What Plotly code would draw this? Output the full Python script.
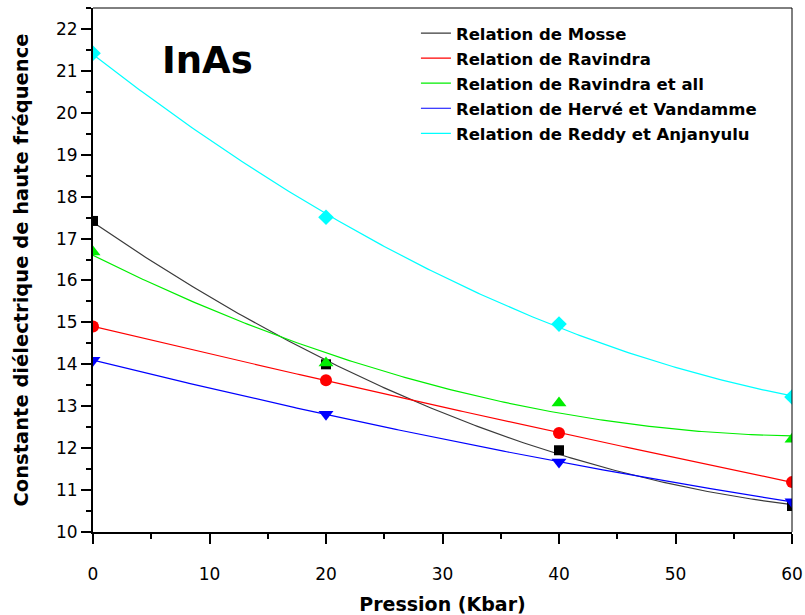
import numpy as np
import plotly.graph_objects as go

# ---- data ----
pressure = [0, 20, 40, 60]
mosse = [17.42, 14.00, 11.95, 10.62]
ravindra = [14.90, 13.62, 12.36, 11.19]
ravindra_all = [16.68, 14.03, 13.08, 12.21]
herve = [14.10, 12.81, 11.67, 10.72]
reddy = [21.42, 17.51, 14.96, 13.22]

series_names = [
    "Relation de Mosse",
    "Relation de Ravindra",
    "Relation de Ravindra et all",
    "Relation de Hervé et Vandamme",
    "Relation de Reddy et Anjanyulu",
]
series_values = [mosse, ravindra, ravindra_all, herve, reddy]
line_colors = ["#3a3a3a", "#ff0000", "#00ee00", "#0000ff", "#00ffff"]
marker_colors = ["#000000", "#ff0000", "#00ee00", "#0000ff", "#00ffff"]
marker_symbols = ["square", "circle", "triangle-up", "triangle-down", "diamond"]
marker_sizes = [10, 12, 13, 13, 12]

FONT = "DejaVu Sans"

fig = go.Figure()

xs = np.linspace(0, 60, 241)
# fitted (2nd order polynomial) curves, as in the original figure
for name, vals, lc in zip(series_names, series_values, line_colors):
    coef = np.polyfit(pressure, vals, 2)
    fig.add_trace(go.Scatter(
        x=xs, y=np.polyval(coef, xs), mode="lines", name="<b>" + name + "</b>",
        line=dict(color=lc, width=1.2), legendgroup=name,
    ))

for name, vals, mc, sym, ms in zip(series_names, series_values, marker_colors,
                                   marker_symbols, marker_sizes):
    fig.add_trace(go.Scatter(
        x=pressure, y=vals, mode="markers", showlegend=False, legendgroup=name,
        marker=dict(color=mc, symbol=sym, size=ms, line=dict(width=0)),
    ))

fig.add_annotation(
    x=9.8, y=21.25, xref="x", yref="y", text="<b>InAs</b>", showarrow=False,
    font=dict(family=FONT, size=37, color="black"),
)

axis_common = dict(
    showgrid=False, zeroline=False, showline=True, linecolor="black", linewidth=2,
    ticks="outside", ticklen=10, tickwidth=2, tickcolor="black",
    tickfont=dict(family=FONT, size=17, color="black"), automargin=False,
)

fig.update_xaxes(
    range=[0, 60], dtick=10, tick0=0,
    minor=dict(ticks="outside", ticklen=5, tickwidth=2, tickcolor="black", dtick=5),
    ticklabelstandoff=16,
    title=dict(text="<b>Pression (Kbar)</b>", font=dict(family=FONT, size=19, color="black"),
               standoff=18),
    **axis_common,
)
fig.update_yaxes(
    range=[10, 22.5], dtick=1, tick0=10,
    minor=dict(ticks="outside", ticklen=5, tickwidth=2, tickcolor="black", dtick=0.5),
    title=dict(text="<b>Constante diélectrique de haute fréquence</b>",
               font=dict(family=FONT, size=19.5, color="black"), standoff=22),
    **axis_common,
)

# thin top / right frame
fig.add_shape(type="line", xref="paper", yref="paper", x0=0, x1=1, y0=1, y1=1,
              line=dict(color="black", width=1))
fig.add_shape(type="line", xref="paper", yref="paper", x0=1, x1=1, y0=0, y1=1,
              line=dict(color="black", width=1))

fig.update_layout(
    width=805, height=615,
    margin=dict(l=93, r=13, t=8, b=83),
    paper_bgcolor="white", plot_bgcolor="white",
    font=dict(family=FONT, color="black"),
    legend=dict(
        x=0.462, y=0.985, xanchor="left", yanchor="top",
        bgcolor="rgba(0,0,0,0)", borderwidth=0,
        font=dict(family=FONT, size=16.5, color="black"),
        tracegroupgap=0.6, itemwidth=30,
    ),
)

fig.write_html("out.html")
